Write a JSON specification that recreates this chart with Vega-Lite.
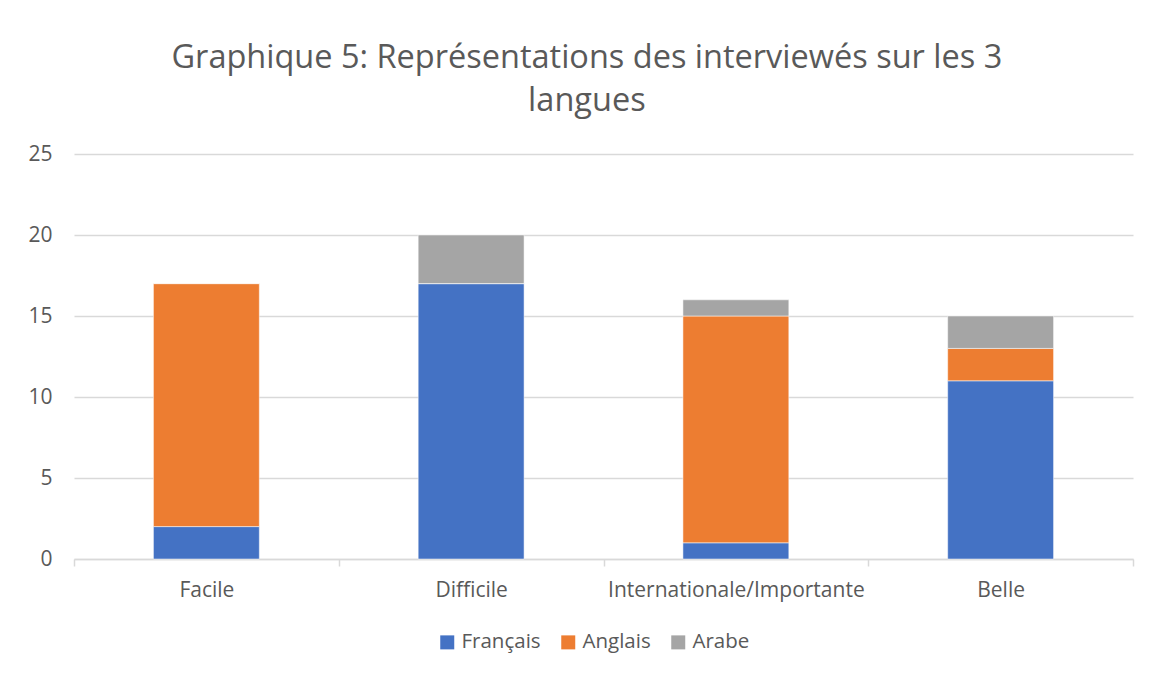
{
  "$schema": "https://vega.github.io/schema/vega-lite/v6.json",
  "width": 1059,
  "height": 405,
  "autosize": "none",
  "padding": {"left": 74, "top": 154, "right": 24, "bottom": 118},
  "background": "white",
  "title": {
    "text": ["Graphique 5: Représentations des interviewés sur les 3", "langues"],
    "anchor": "middle",
    "frame": "bounds",
    "font": "Open Sans",
    "fontSize": 32.5,
    "fontWeight": "normal",
    "color": "#595959",
    "lineHeight": 43,
    "offset": 26,
    "dx": 6
  },
  "data": {
    "values": [
      {"categorie": "Facile", "langue": "Français", "ordre": 1, "valeur": 2},
      {"categorie": "Facile", "langue": "Anglais", "ordre": 2, "valeur": 15},
      {"categorie": "Facile", "langue": "Arabe", "ordre": 3, "valeur": 0},
      {"categorie": "Difficile", "langue": "Français", "ordre": 1, "valeur": 17},
      {"categorie": "Difficile", "langue": "Anglais", "ordre": 2, "valeur": 0},
      {"categorie": "Difficile", "langue": "Arabe", "ordre": 3, "valeur": 3},
      {"categorie": "Internationale/Importante", "langue": "Français", "ordre": 1, "valeur": 1},
      {"categorie": "Internationale/Importante", "langue": "Anglais", "ordre": 2, "valeur": 14},
      {"categorie": "Internationale/Importante", "langue": "Arabe", "ordre": 3, "valeur": 1},
      {"categorie": "Belle", "langue": "Français", "ordre": 1, "valeur": 11},
      {"categorie": "Belle", "langue": "Anglais", "ordre": 2, "valeur": 2},
      {"categorie": "Belle", "langue": "Arabe", "ordre": 3, "valeur": 2}
    ]
  },
  "mark": {"type": "bar", "stroke": "white", "strokeWidth": 0.5, "width": {"band": 0.4}},
  "encoding": {
    "x": {
      "field": "categorie",
      "type": "nominal",
      "sort": ["Facile", "Difficile", "Internationale/Importante", "Belle"],
      "scale": {"paddingInner": 0, "paddingOuter": 0},
      "axis": {
        "title": null,
        "labelAngle": 0,
        "labelFont": "Open Sans",
        "labelFontSize": 21,
        "labelColor": "#595959",
        "labelPadding": 13,
        "labelLimit": 400,
        "domainColor": "#d9d9d9",
        "domainWidth": 1.5,
        "tickColor": "#d9d9d9",
        "tickWidth": 1.5,
        "tickSize": 7,
        "tickBand": "extent"
      }
    },
    "y": {
      "field": "valeur",
      "type": "quantitative",
      "stack": "zero",
      "scale": {"domain": [0, 25]},
      "axis": {
        "title": null,
        "values": [0, 5, 10, 15, 20, 25],
        "labelFont": "Open Sans",
        "labelFontSize": 21,
        "labelColor": "#595959",
        "labelPadding": 22,
        "domain": false,
        "ticks": false,
        "gridColor": "#d9d9d9",
        "gridWidth": 1.5
      }
    },
    "color": {
      "field": "langue",
      "type": "nominal",
      "sort": ["Français", "Anglais", "Arabe"],
      "scale": {"domain": ["Français", "Anglais", "Arabe"], "range": ["#4472c4", "#ed7d31", "#a5a5a5"]},
      "legend": {
        "title": null,
        "orient": "none",
        "legendX": 363,
        "legendY": 478,
        "direction": "horizontal",
        "symbolType": "square",
        "symbolSize": 196,
        "symbolStrokeWidth": 0,
        "labelFont": "Open Sans",
        "labelFontSize": 20.5,
        "labelColor": "#595959",
        "labelOffset": 4,
        "columnPadding": 17
      }
    },
    "order": {"field": "ordre", "type": "quantitative"}
  },
  "config": {
    "view": {"stroke": null}
  }
}
